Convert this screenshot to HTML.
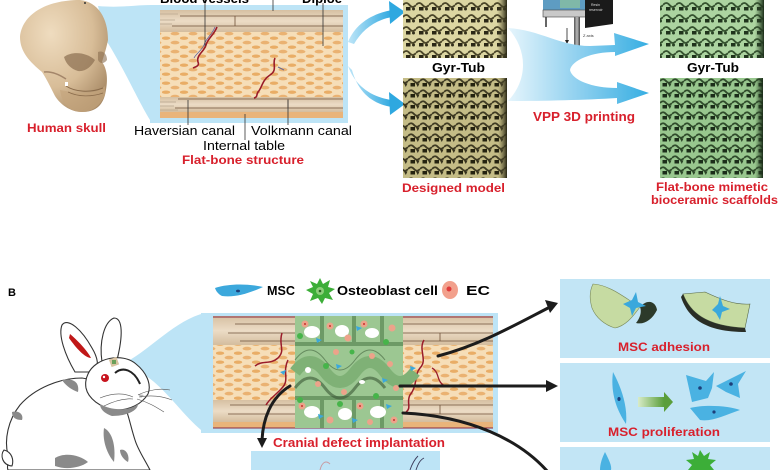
<!DOCTYPE html>
<html><head><meta charset="utf-8"><style>
html,body{margin:0;padding:0;background:#fff;width:780px;height:470px;overflow:hidden}
svg{display:block}
text{font-family:"Liberation Sans",Arial,sans-serif}
</style></head><body>
<svg width="780" height="470" viewBox="0 0 780 470" xmlns="http://www.w3.org/2000/svg">
<defs>
 <pattern id="dip" width="18" height="9" patternUnits="userSpaceOnUse">
  <rect width="18" height="9" fill="#f6deb8"/>
  <ellipse cx="4" cy="2.2" rx="4.2" ry="1.7" fill="#e9ad66"/>
  <ellipse cx="13" cy="6.6" rx="4.4" ry="1.8" fill="#eab272"/>
 </pattern>
 <pattern id="yel1" width="13" height="12" patternUnits="userSpaceOnUse">
  <rect width="13" height="12" fill="#dcd6a2"/>
  <path d="M0 5 Q3.25 1 6.5 5 T13 5" stroke="#4a4528" stroke-width="1.8" fill="none"/>
  <rect x="3" y="7" width="4.5" height="3.5" fill="#2a2716"/>
  <circle cx="10.5" cy="9" r="1.5" fill="#34301c"/>
 </pattern>
 <pattern id="yel2" width="12" height="11" patternUnits="userSpaceOnUse">
  <rect width="12" height="11" fill="#c4bc86"/>
  <path d="M0 4 Q3 0.5 6 4 T12 4" stroke="#3e3a22" stroke-width="1.8" fill="none"/>
  <rect x="2.5" y="6" width="4.5" height="3.5" fill="#24220f"/>
  <path d="M8 6.5 l3.5 0 l-1.7 3.5z" fill="#34301c"/>
 </pattern>
 <pattern id="grn1" width="13" height="12" patternUnits="userSpaceOnUse">
  <rect width="13" height="12" fill="#acd4a0"/>
  <path d="M0 5 Q3.25 1 6.5 5 T13 5" stroke="#35522f" stroke-width="1.8" fill="none"/>
  <rect x="3" y="7" width="4.5" height="3.5" fill="#1f331c"/>
  <circle cx="10.5" cy="9" r="1.5" fill="#2a4326"/>
 </pattern>
 <pattern id="grn2" width="12" height="11" patternUnits="userSpaceOnUse">
  <rect width="12" height="11" fill="#98c78e"/>
  <path d="M0 4 Q3 0.5 6 4 T12 4" stroke="#2f4b2b" stroke-width="1.8" fill="none"/>
  <rect x="2.5" y="6" width="4.5" height="3.5" fill="#1b2d19"/>
  <path d="M8 6.5 l3.5 0 l-1.7 3.5z" fill="#2a4326"/>
 </pattern>
 <linearGradient id="edgeY" x1="0" x2="1"><stop offset="0" stop-color="#6b6540" stop-opacity="0"/><stop offset="1" stop-color="#2a2816"/></linearGradient>
 <linearGradient id="edgeG" x1="0" x2="1"><stop offset="0" stop-color="#3b5a36" stop-opacity="0"/><stop offset="1" stop-color="#1c2e1a"/></linearGradient>
 <linearGradient id="swoosh" x1="0" x2="1"><stop offset="0" stop-color="#e6f5fc"/><stop offset="0.5" stop-color="#8fd0ef"/><stop offset="1" stop-color="#36aee2"/></linearGradient>
 <linearGradient id="arrA" x1="0" x2="1"><stop offset="0" stop-color="#bfe6f8"/><stop offset="1" stop-color="#2ea8e0"/></linearGradient>
 <radialGradient id="skull" cx="0.35" cy="0.3" r="0.8"><stop offset="0" stop-color="#efdcbf"/><stop offset="0.6" stop-color="#d8bd98"/><stop offset="1" stop-color="#a88a66"/></radialGradient>
 <linearGradient id="cort" x1="0" y1="0" x2="0" y2="1"><stop offset="0" stop-color="#d6c0a2"/><stop offset="0.5" stop-color="#ecdcc6"/><stop offset="1" stop-color="#d4bd9e"/></linearGradient>
 <linearGradient id="garr" x1="0" x2="1"><stop offset="0" stop-color="#d8ecc8"/><stop offset="1" stop-color="#5a9e3a"/></linearGradient>
 <linearGradient id="rod" x1="0" x2="1"><stop offset="0" stop-color="#555"/><stop offset="0.5" stop-color="#bbb"/><stop offset="1" stop-color="#444"/></linearGradient>
</defs>

<!-- ============ PANEL A ============ -->
<path d="M98 6 C120 8 135 5 152 5 L152 123 C140 105 125 70 106 40 Z" fill="#bde4f6"/>
<rect x="150" y="5" width="198" height="118" fill="#bde4f6"/>

<!-- skull -->
<path d="M20 37 C22 15 45 0 80 0 C98 2 108 18 108 40 C106 50 104 55 102 62 C108 70 108 82 105 95 C102 106 95 112 82 112 C70 112 60 104 55 96 C50 86 46 78 42 72 C30 62 20 52 20 37 Z" fill="url(#skull)"/>
<path d="M60 90 C70 92 82 94 92 92 C98 91 102 89 105 86 L105 95 C100 106 92 112 82 112 C70 112 62 104 60 90 Z" fill="#c4a57e" opacity="0.7"/>
<path d="M64 57 C72 51 86 52 95 60 C91 67 85 72 78 71 C71 69 66 64 64 57 Z" fill="#8a6e50" opacity="0.7"/>
<path d="M98 52 C103 50 107 54 107 60 C104 64 100 64 98 60 Z" fill="#8a6e50" opacity="0.6"/>
<path d="M44 72 C52 71 60 75 66 79" stroke="#a4866a" stroke-width="1.5" fill="none"/>
<path d="M66 86 C75 92 90 93 103 88" stroke="#8a6c4c" stroke-width="1" fill="none"/>
<path d="M68 92 C78 97 92 97 103 93" stroke="#8a6c4c" stroke-width="0.7" fill="none"/>
<rect x="65" y="82" width="3" height="4" fill="#fff"/>
<circle cx="85" cy="3" r="1" fill="#333"/>

<!-- bone block A -->
<rect x="160" y="10" width="183" height="22" fill="url(#cort)"/>
<rect x="160" y="32" width="183" height="65" fill="url(#dip)"/>
<rect x="160" y="97" width="183" height="15" fill="url(#cort)"/>
<rect x="160" y="112" width="183" height="6" fill="#e9b47a"/>
<g stroke="#6e5038" stroke-width="0.8">
 <line x1="180" y1="16" x2="343" y2="16"/>
 <line x1="172" y1="26" x2="343" y2="26"/>
 <line x1="235" y1="16" x2="235" y2="26"/>
 <line x1="178" y1="99" x2="343" y2="99"/>
 <line x1="175" y1="108" x2="343" y2="108"/>
 <line x1="288" y1="99" x2="288" y2="108"/>
</g>
<g stroke="#a89880" stroke-width="0.6">
 <line x1="160" y1="14" x2="178" y2="14"/><line x1="160" y1="20" x2="175" y2="20"/><line x1="160" y1="24" x2="172" y2="24"/>
 <line x1="160" y1="102" x2="176" y2="102"/><line x1="160" y1="106" x2="174" y2="106"/><line x1="160" y1="110" x2="178" y2="110"/>
</g>
<path d="M217 27 C214 35 208 38 206 45 C204 52 196 55 198 62 C200 66 195 67 193 68" stroke="#9a1c2a" stroke-width="1.6" fill="none"/>
<path d="M215 27 C212 35 206 38 204 45 C202 50 196 54 194 58" stroke="#5a5aa0" stroke-width="0.7" fill="none"/>
<path d="M275 58 C272 64 278 70 270 75 C262 80 262 88 258 92 C256 95 258 97 254 98" stroke="#9a1c2a" stroke-width="1.6" fill="none"/>
<path d="M278 67 l6 3" stroke="#6a6a90" stroke-width="1"/>
<g stroke="#333" stroke-width="0.8">
 <line x1="205" y1="3" x2="205" y2="46"/>
 <line x1="273" y1="0" x2="273" y2="11"/>
 <line x1="323" y1="3" x2="323" y2="46"/>
 <line x1="188" y1="100" x2="188" y2="125"/>
 <line x1="245" y1="114" x2="245" y2="140"/>
 <line x1="288" y1="100" x2="288" y2="125"/>
</g>
<text x="160" y="3" font-size="12.5" font-weight="bold" textLength="89" lengthAdjust="spacingAndGlyphs">Blood vessels</text>
<text x="302" y="3" font-size="12.5" font-weight="bold" textLength="40" lengthAdjust="spacingAndGlyphs">Diploe</text>
<text x="27" y="132" font-size="11.5" font-weight="bold" fill="#d8202c" textLength="79" lengthAdjust="spacingAndGlyphs">Human skull</text>
<text x="134" y="135" font-size="12.5" textLength="101" lengthAdjust="spacingAndGlyphs">Haversian canal</text>
<text x="251" y="135" font-size="12.5" textLength="101" lengthAdjust="spacingAndGlyphs">Volkmann canal</text>
<text x="203" y="150" font-size="12.5" textLength="82" lengthAdjust="spacingAndGlyphs">Internal table</text>
<text x="182" y="164" font-size="12" font-weight="bold" fill="#d8202c" textLength="122" lengthAdjust="spacingAndGlyphs">Flat-bone structure</text>

<!-- blue arrows A -->
<path d="M348 42 C355 25 370 14 392 10 L392 17 C375 20 362 30 354 44 Z" fill="url(#arrA)"/>
<path d="M389 1 L405 12 L390 24 Z" fill="#2ea8e0"/>
<path d="M348 66 C355 85 370 97 392 100 L392 107 C372 104 358 92 352 70 Z" fill="url(#arrA)"/>
<path d="M389 92 L405 104 L390 115 Z" fill="#2ea8e0"/>

<!-- yellow scaffolds -->
<rect x="403" y="0" width="104" height="58" fill="url(#yel1)"/>
<rect x="497" y="0" width="10" height="58" fill="url(#edgeY)"/>
<rect x="403" y="78" width="104" height="100" fill="url(#yel2)"/>
<rect x="498" y="78" width="9" height="100" fill="url(#edgeY)"/>
<text x="432" y="72" font-size="12.5" font-weight="bold" textLength="53" lengthAdjust="spacingAndGlyphs">Gyr-Tub</text>
<text x="402" y="192" font-size="12" font-weight="bold" fill="#d8202c" textLength="103" lengthAdjust="spacingAndGlyphs">Designed model</text>

<!-- printer -->
<rect x="543" y="0" width="44" height="11" fill="#5e9cc2"/>
<rect x="560" y="0" width="20" height="8" fill="#7fb8a8"/>
<rect x="543" y="10" width="44" height="7" fill="#c9c9c9" stroke="#444" stroke-width="0.6"/>
<line x1="546" y1="17" x2="546" y2="27" stroke="#333" stroke-width="1.5"/>
<path d="M585 0 L613 0 L613 24 L585 28 Z" fill="#1a1a1a"/>
<text x="591" y="6" font-size="3.5" fill="#ddd">Resin</text>
<text x="589" y="11" font-size="3.5" fill="#ddd">reservoir</text>
<rect x="574" y="17" width="6" height="30" fill="url(#rod)"/>
<line x1="567" y1="28" x2="567" y2="41" stroke="#222" stroke-width="0.8"/>
<path d="M565 40 L569 40 L567 44 Z" fill="#222"/>
<text x="583" y="37" font-size="4" fill="#333">Z axis</text>

<!-- swoosh -->
<path d="M508 28 C540 30 560 46 590 46 L615 45 L614 33 L649 44 L615 56 L615 52 C592 52 572 60 570 70 C572 80 592 88 617 88 L617 82 L649 93 L617 104 L617 98 C585 100 545 101 508 101 C528 80 528 50 508 28 Z" fill="url(#swoosh)"/>
<text x="533" y="121" font-size="12.5" font-weight="bold" fill="#d8202c" textLength="102" lengthAdjust="spacingAndGlyphs">VPP 3D printing</text>

<!-- green scaffolds -->
<rect x="660" y="0" width="104" height="58" fill="url(#grn1)"/>
<rect x="755" y="0" width="9" height="58" fill="url(#edgeG)"/>
<rect x="660" y="78" width="103" height="100" fill="url(#grn2)"/>
<rect x="755" y="78" width="8" height="100" fill="url(#edgeG)"/>
<text x="687" y="72" font-size="12.5" font-weight="bold" textLength="52" lengthAdjust="spacingAndGlyphs">Gyr-Tub</text>
<text x="656" y="191" font-size="12" font-weight="bold" fill="#d8202c" textLength="112" lengthAdjust="spacingAndGlyphs">Flat-bone mimetic</text>
<text x="651" y="204" font-size="12" font-weight="bold" fill="#d8202c" textLength="127" lengthAdjust="spacingAndGlyphs">bioceramic scaffolds</text>

<!-- ============ PANEL B ============ -->
<text x="8" y="296" font-size="11" font-weight="bold">B</text>
<path d="M215 288 C230 283 250 284 263 287 C252 292 236 298 222 296 C218 294 216 291 215 288 Z" fill="#3ca8dc"/>
<ellipse cx="238" cy="291" rx="2" ry="1.4" fill="#1d3f7a"/>
<text x="267" y="295" font-size="12.5" font-weight="bold" textLength="28" lengthAdjust="spacingAndGlyphs">MSC</text>
<path d="M320 278 L323 284 L330 280 L328 287 L335 289 L329 293 L333 300 L325 298 L322 304 L318 298 L310 301 L313 294 L306 290 L313 287 L310 281 L317 284 Z" fill="#3cae38"/>
<circle cx="320" cy="291" r="4" fill="#8ccf7a"/><circle cx="320" cy="291" r="1.3" fill="#2a5e22"/>
<text x="337" y="295" font-size="12.5" font-weight="bold" textLength="101" lengthAdjust="spacingAndGlyphs">Osteoblast cell</text>
<ellipse cx="450" cy="290" rx="8" ry="9" fill="#f2a08c"/>
<circle cx="449" cy="289" r="2.5" fill="#e03a3a"/>
<text x="466" y="295" font-size="12.5" font-weight="bold" textLength="24" lengthAdjust="spacingAndGlyphs">EC</text>

<!-- funnel B -->
<path d="M126 362 C150 350 175 320 205 313 L205 433 C180 415 155 370 126 368 Z" fill="#bde4f6"/>
<rect x="201" y="313" width="297" height="120" fill="#bde4f6"/>

<!-- bone block B -->
<rect x="213" y="316" width="280" height="29" fill="url(#cort)"/>
<rect x="213" y="345" width="280" height="55" fill="url(#dip)"/>
<rect x="213" y="400" width="280" height="22" fill="url(#cort)"/>
<rect x="213" y="422" width="280" height="6" fill="#e9b47a"/>
<line x1="213" y1="317" x2="493" y2="317" stroke="#8a2a40" stroke-width="1"/>
<line x1="213" y1="428" x2="493" y2="428" stroke="#8a2a40" stroke-width="1"/>
<g stroke="#6e5038" stroke-width="0.8">
 <line x1="235" y1="324" x2="493" y2="324"/><line x1="228" y1="333" x2="493" y2="333"/><line x1="240" y1="341" x2="493" y2="341"/>
 <line x1="230" y1="405" x2="493" y2="405"/><line x1="228" y1="414" x2="493" y2="414"/>
 <line x1="440" y1="333" x2="440" y2="341"/><line x1="440" y1="405" x2="440" y2="414"/>
</g>
<path d="M282 333 C278 345 286 350 278 358 C270 365 262 360 255 366" stroke="#9a1c2a" stroke-width="1.5" fill="none"/>
<path d="M288 360 C282 372 290 380 282 388 C276 395 270 398 266 405" stroke="#9a1c2a" stroke-width="1.5" fill="none"/>
<path d="M424 340 C418 350 428 360 420 368 C414 375 418 385 410 395 C406 402 412 408 406 412" stroke="#9a1c2a" stroke-width="1.5" fill="none"/>
<path d="M432 368 C440 372 436 382 445 386" stroke="#9a1c2a" stroke-width="1.3" fill="none"/>
<!-- scaffold B -->
<rect x="295" y="316" width="108" height="112" fill="#9cc792"/>
<g fill="#6d9a66">
 <rect x="295" y="342" width="108" height="4"/><rect x="295" y="396" width="108" height="4"/>
 <rect x="320" y="316" width="4" height="30"/><rect x="352" y="316" width="4" height="30"/><rect x="380" y="316" width="4" height="30"/>
 <rect x="320" y="398" width="4" height="30"/><rect x="352" y="398" width="4" height="30"/><rect x="380" y="398" width="4" height="30"/>
</g>
<path d="M295 372 Q310 352 325 372 T355 372 T385 372 T415 372" stroke="#7fb176" stroke-width="12" fill="none"/>
<path d="M295 360 Q310 340 325 360 T355 360 T385 360" stroke="#4e7048" stroke-width="1" fill="none" opacity="0.7"/>
<path d="M295 388 Q310 368 325 388 T355 388 T385 388" stroke="#3b5636" stroke-width="3" fill="none" opacity="0.6"/>
<g fill="#fff">
 <ellipse cx="312" cy="332" rx="8" ry="6"/><ellipse cx="342" cy="331" rx="7" ry="6"/><ellipse cx="372" cy="333" rx="7" ry="5"/>
 <ellipse cx="312" cy="412" rx="8" ry="6"/><ellipse cx="345" cy="414" rx="7" ry="6"/><ellipse cx="378" cy="412" rx="8" ry="6"/>
 <ellipse cx="308" cy="370" rx="3" ry="3"/><ellipse cx="362" cy="382" rx="3" ry="2"/>
</g>
<g fill="#eca38a">
 <circle cx="305" cy="324" r="3.5"/><circle cx="330" cy="326" r="3.5"/><circle cx="348" cy="338" r="3.5"/><circle cx="364" cy="324" r="3.5"/><circle cx="392" cy="328" r="3.5"/><circle cx="336" cy="352" r="3"/><circle cx="372" cy="356" r="3"/><circle cx="390" cy="364" r="3"/><circle cx="318" cy="384" r="3"/><circle cx="344" cy="392" r="3"/><circle cx="396" cy="388" r="3"/><circle cx="302" cy="406" r="3.5"/><circle cx="330" cy="420" r="3.5"/><circle cx="360" cy="406" r="3.5"/><circle cx="394" cy="420" r="3.5"/><circle cx="370" cy="422" r="3"/>
</g>
<g fill="#c8322e">
 <circle cx="305" cy="324" r="1"/><circle cx="330" cy="326" r="1"/><circle cx="364" cy="324" r="1"/><circle cx="302" cy="406" r="1"/><circle cx="360" cy="406" r="1"/><circle cx="394" cy="420" r="1"/>
</g>
<g fill="#46b44a">
 <circle cx="300" cy="336" r="3"/><circle cx="386" cy="342" r="3"/><circle cx="326" cy="366" r="3"/><circle cx="300" cy="400" r="3"/><circle cx="340" cy="404" r="3"/><circle cx="376" cy="396" r="3"/><circle cx="352" cy="352" r="2.5"/>
</g>
<g fill="#3aa8dc">
 <path d="M316 338 l6 2 l-5 3z"/><path d="M356 326 l6 2 l-5 3z"/><path d="M336 364 l6 2 l-5 3z"/><path d="M382 378 l6 2 l-5 3z"/><path d="M318 414 l6 2 l-5 3z"/><path d="M352 418 l6 2 l-5 3z"/><path d="M386 404 l6 2 l-5 3z"/><path d="M280 372 l6 -2 l-2 5z"/><path d="M410 366 l6 2 l-5 3z"/>
</g>
<text x="273" y="447" font-size="12.5" font-weight="bold" fill="#d8202c" textLength="172" lengthAdjust="spacingAndGlyphs">Cranial defect implantation</text>
<rect x="251" y="451" width="189" height="19" fill="#bde4f6"/>
<path d="M320 470 C322 462 326 460 330 464" stroke="#c89aa0" stroke-width="1" fill="none"/>
<path d="M410 470 C412 464 414 460 418 456 M416 470 C418 464 420 460 424 458" stroke="#3a3a5a" stroke-width="0.9" fill="none"/>

<!-- black arrows -->
<g stroke="#1c1c1c" stroke-width="3" fill="none" stroke-linecap="round">
 <path d="M290 386 C270 398 263 420 262 440"/>
 <path d="M438 356 C480 345 515 325 550 307"/>
 <path d="M400 386 L548 386"/>
 <path d="M403 413 C470 416 520 440 548 472"/>
</g>
<g fill="#1c1c1c">
 <path d="M257 438 L267 438 L262 448 Z"/>
 <path d="M545 300 L558 303 L550 313 Z"/>
 <path d="M546 380 L558 386 L546 392 Z"/>
</g>

<!-- right boxes -->
<rect x="560" y="279" width="210" height="79" fill="#c2e5f5"/>
<rect x="560" y="363" width="210" height="79" fill="#c2e5f5"/>
<rect x="560" y="447" width="210" height="23" fill="#c2e5f5"/>
<path d="M593 284 C610 285 625 298 640 307 C632 318 625 326 615 328 C605 325 596 318 592 308 C589 298 590 290 593 284 Z" fill="#c6dba2" stroke="#7a8a5a" stroke-width="0.6"/>
<path d="M640 307 C648 298 656 302 657 310 C652 320 644 325 636 323 C640 318 642 312 640 307 Z" fill="#2c3a2a"/>
<path d="M683 294 C690 312 705 326 745 328 L750 304 C735 305 722 300 705 292 Z" fill="#c6dba2" stroke="#556646" stroke-width="0.6"/>
<path d="M683 294 C690 312 705 326 745 328 L746 332 C705 332 688 318 681 297 Z" fill="#2a2e26"/>
<path d="M623 304 L632 300 L636 292 L638 302 L646 306 L636 308 L632 316 L630 308 Z" fill="#3aa8dc"/>
<path d="M712 310 L718 304 L720 296 L723 306 L730 309 L722 312 L720 320 L716 313 Z" fill="#3aa8dc"/>
<text x="618" y="351" font-size="12" font-weight="bold" fill="#d8202c" textLength="92" lengthAdjust="spacingAndGlyphs">MSC adhesion</text>
<path d="M613 372 C620 385 628 405 626 424 C618 412 610 395 613 372 Z" fill="#4ab2e2"/>
<ellipse cx="619" cy="399" rx="1.6" ry="2" fill="#1d3f7a"/>
<rect x="638" y="397" width="26" height="10" fill="url(#garr)"/>
<path d="M664 392 L673 402 L664 412 Z" fill="#5a9e3a"/>
<path d="M686 375 L706 381 L714 372 L712 388 L708 398 L692 402 Z" fill="#4ab2e2"/>
<path d="M716 386 L732 378 L746 371 L738 384 L740 398 L726 392 Z" fill="#4ab2e2"/>
<path d="M690 408 C705 404 730 406 740 410 C725 415 712 422 700 420 Z" fill="#4ab2e2"/>
<circle cx="700" cy="388" r="1.8" fill="#1d3f7a"/><circle cx="731" cy="384" r="1.8" fill="#1d3f7a"/><circle cx="714" cy="412" r="1.6" fill="#1d3f7a"/>
<text x="608" y="436" font-size="12" font-weight="bold" fill="#d8202c" textLength="112" lengthAdjust="spacingAndGlyphs">MSC proliferation</text>
<path d="M605 452 C609 460 612 466 611 470 L600 470 C600 464 602 458 605 452 Z" fill="#4ab2e2"/>
<path d="M700 450 L704 456 L710 452 L708 459 L716 460 L710 465 L714 470 L688 470 L692 465 L686 460 L694 459 L692 452 L698 456 Z" fill="#3cae38"/>

<!-- rabbit -->
<g stroke="#333" stroke-width="1.1" fill="#fff" stroke-linejoin="round">
 <path d="M82 378 C60 378 35 388 20 405 C8 420 4 440 8 455 C10 462 6 466 8 470 L150 470 C145 460 138 450 135 440 C130 425 128 410 122 402 C110 392 98 380 82 378 Z"/>
 <path d="M75 372 C65 355 58 335 62 325 C68 317 82 330 92 348 C98 358 99 366 95 372 Z"/>
 <path d="M102 362 C99 342 104 322 114 318 C123 318 123 336 117 360 Z"/>
 <path d="M88 374 C95 358 122 352 136 364 C146 372 152 384 148 394 C142 404 130 410 116 410 C100 408 88 398 86 388 C85 382 86 378 88 374 Z"/>
 <path d="M4 450 C0 455 2 465 12 466 C14 460 12 452 4 450 Z"/>
</g>
<path d="M70 334 C77 340 87 350 91 358 C85 358 76 348 69 338 Z" fill="#c01818"/>
<g fill="#8a8a8a">
 <path d="M62 380 C70 378 80 380 78 392 C72 390 66 386 62 380 Z"/>
 <path d="M100 404 C110 410 128 412 138 404 C138 410 128 416 112 416 C106 414 100 410 100 404 Z"/>
 <path d="M12 412 C18 410 24 414 22 420 C16 420 12 418 12 412 Z"/>
 <path d="M55 458 C65 452 80 455 88 462 C80 468 66 470 55 466 Z"/>
 <path d="M104 428 C112 432 116 445 114 462 C108 455 102 442 104 428 Z"/>
 <path d="M120 450 C126 448 130 456 128 462 C124 460 120 455 120 450 Z"/>
</g>
<path d="M115 373 C123 366 134 370 140 384" stroke="#222" stroke-width="2" fill="none"/>
<path d="M138 394 l6 1 l-3 3z" fill="#bbb"/>
<circle cx="105" cy="378" r="4" fill="#c8141e"/><circle cx="104" cy="377" r="1.2" fill="#fff"/>
<rect x="110" y="358" width="8" height="8" fill="#d7c3a0" transform="rotate(-20 114 362)"/>
<rect x="112" y="360" width="4" height="4" fill="#6aa05a"/>
<g stroke="#555" stroke-width="0.6" fill="none">
 <path d="M138 395 C148 390 160 388 170 390"/><path d="M139 397 C150 395 162 396 172 400"/><path d="M137 399 C148 402 156 407 164 412"/>
 <path d="M133 397 C122 392 110 394 100 398"/><path d="M133 399 C122 398 112 402 104 406"/>
</g>
</svg>
</body></html>
